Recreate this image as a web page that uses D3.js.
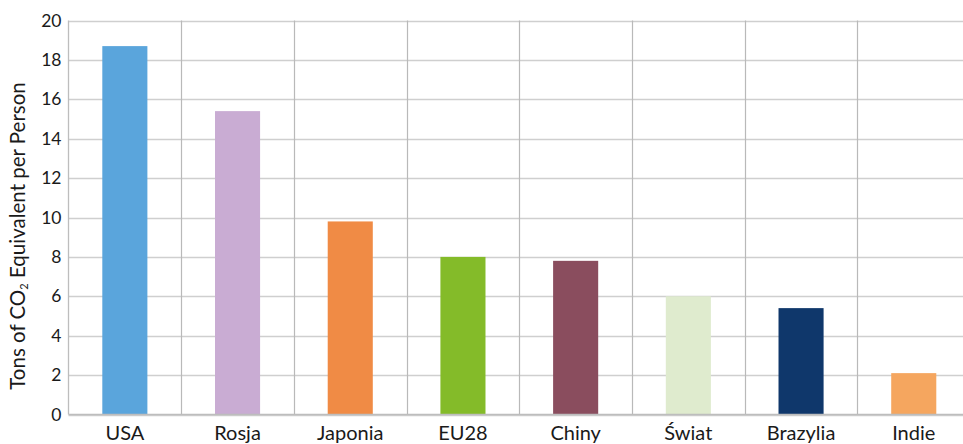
<!DOCTYPE html>
<html>
<head>
<meta charset="utf-8">
<script src="https://cdn.jsdelivr.net/npm/d3@7"></script>
<style>
  html, body { margin: 0; padding: 0; background: #fff; overflow: hidden; }
  svg { display: block; font-family: Lato, "Open Sans", sans-serif; }
</style>
</head>
<body>
<svg id="chart" width="963" height="444"></svg>
<script>
const categories = ["USA", "Rosja", "Japonia", "EU28", "Chiny", "Świat", "Brazylia", "Indie"];
const values = [18.7, 15.4, 9.8, 8.0, 7.8, 6.0, 5.4, 2.1];
const colors = ["#5aa5dc", "#c9acd3", "#f08b45", "#84bb29", "#8a4d5e", "#dfebce", "#0f376b", "#f5a65f"];
const yTicks = [0, 2, 4, 6, 8, 10, 12, 14, 16, 18, 20];

(function () {
const svg = d3.select("#chart");
const mLeft = 68.5, mTop = 20.5, mBottom = 414.5;
const bandW = 112.7;
const mRight = mLeft + bandW * categories.length;

const x = d3.scaleBand().domain(categories).range([mLeft, mRight]).paddingInner(0).paddingOuter(0);
const y = d3.scaleLinear().domain([0, 20]).range([mBottom, mTop]);

// horizontal gridlines
svg.append("g").selectAll("line").data(yTicks).join("line")
  .attr("x1", mLeft).attr("x2", mRight)
  .attr("y1", d => Math.round(y(d)) + 0.5).attr("y2", d => Math.round(y(d)) + 0.5)
  .attr("stroke", "#cfcfcf").attr("stroke-width", 1.3);

// vertical gridlines (category separators)
svg.append("g").selectAll("line").data(categories.slice(1)).join("line")
  .attr("x1", d => Math.round(x(d)) + 0.5).attr("x2", d => Math.round(x(d)) + 0.5)
  .attr("y1", mTop).attr("y2", mBottom)
  .attr("stroke", "#b9b9b9").attr("stroke-width", 1.2);

// bars
const barW = x.bandwidth() * 0.4;
svg.append("g").selectAll("rect").data(values).join("rect")
  .attr("x", (d, i) => x(categories[i]) + (x.bandwidth() - barW) / 2)
  .attr("width", barW)
  .attr("y", d => y(d))
  .attr("height", d => mBottom - y(d))
  .attr("fill", (d, i) => colors[i]);

// axes lines
svg.append("line").attr("x1", mLeft).attr("x2", mLeft).attr("y1", mTop).attr("y2", mBottom)
  .attr("stroke", "#bdbdbd").attr("stroke-width", 1.3);
svg.append("line").attr("x1", mLeft).attr("x2", mRight).attr("y1", mBottom).attr("y2", mBottom)
  .attr("stroke", "#bdbdbd").attr("stroke-width", 1.3);

// y axis labels via d3 axis
const yAxis = d3.axisLeft(y).tickValues(yTicks).tickSize(0).tickPadding(7).tickFormat(d3.format("d"));
const yg = svg.append("g").attr("transform", `translate(${mLeft},0)`).call(yAxis);
yg.select(".domain").remove();
yg.selectAll("text").attr("font-size", 17.5).attr("fill", "#1a1a1a").attr("font-family", "Lato, sans-serif");

// x axis labels
const xAxis = d3.axisBottom(x).tickSize(0).tickPadding(11);
const xg = svg.append("g").attr("transform", `translate(0,${mBottom})`).call(xAxis);
xg.select(".domain").remove();
xg.selectAll("text").attr("font-size", 20).attr("fill", "#1a1a1a").attr("font-family", "Lato, sans-serif");

// y axis title
const t = svg.append("text")
  .attr("transform", `translate(25, 236) rotate(-90)`)
  .attr("text-anchor", "middle")
  .attr("font-size", 20.5)
  .attr("fill", "#1a1a1a");
t.append("tspan").text("Tons of CO");
t.append("tspan").attr("font-size", 11).attr("dy", 3).text("2");
t.append("tspan").attr("dy", -3).text(" Equivalent per Person");
})();
</script>
</body>
</html>
